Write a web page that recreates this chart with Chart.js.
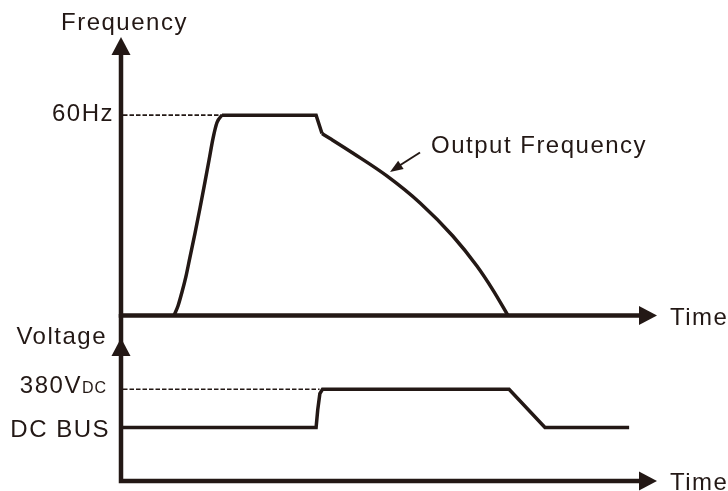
<!DOCTYPE html>
<html>
<head>
<meta charset="utf-8">
<script src="https://cdn.jsdelivr.net/npm/chart.js@4/dist/chart.umd.min.js"></script>
<style>
  html, body { margin: 0; padding: 0; background: #fff; }
  #wrap { position: relative; width: 728px; height: 491px; }
  #wrap canvas { position: absolute; left: 0; top: 0; }
</style>
</head>
<body>
<div id="wrap">
  <canvas id="freq" width="728" height="491"></canvas>
  <canvas id="volt" width="728" height="491"></canvas>
</div>
<script>
// time in arbitrary units (0..100 along the time axis)
// acceleration, constant 60Hz, then deceleration
var riseTime = [9.89, 10.63, 11.38, 12.13, 12.87, 13.81, 14.74, 15.67, 16.42, 17.16, 17.91, 18.84];
var riseHz   = [0,    2.84,  7.03,  11.8,  17.5,  24.7,  32.2,  40.0,  46.5,  53.0,  57.8,  60];
var holdTime = [18.84, 36.4, 37.5];
var holdHz   = [60,    60,   54.5];
var fallTime = [37.5, 39.0, 43.3, 49.6, 55.8, 61.9, 66.4, 69.4, 72.2];
var fallHz   = [54.5, 53.0, 48.6, 41.8, 33.7, 23.8, 14.8, 7.6,  0];

var voltTime  = [0,   36.4, 36.7, 37.1, 37.6, 72.4, 79.1, 94.8];
var voltLevel = [310, 310,  342,  372,  380,  380,  310,  310];

var freqMarkLabels = ['60Hz'];
var freqMarkValues = [60];
var dcBusValue = 310;
var ratedValue = 380;

var INK = '#231815';
var FONT = '24px "Liberation Sans", Arial, sans-serif';
var SMALL = '16px "Liberation Sans", Arial, sans-serif';

function toPoints(xs, ys) {
    var pts = [];
    for (var i = 0; i < xs.length; i++) pts.push({x: xs[i], y: ys[i]});
    return pts;
}

function arrow(ctx, tipX, tipY, dx, dy, len, half) {
    // dx,dy = unit direction the arrow points to
    var bx = tipX - dx * len, by = tipY - dy * len;
    ctx.beginPath();
    ctx.moveTo(tipX, tipY);
    ctx.lineTo(bx - dy * half, by + dx * half);
    ctx.lineTo(bx + dy * half, by - dx * half);
    ctx.closePath();
    ctx.fill();
}

function text(ctx, str, x, y, align) {
    ctx.save();
    ctx.font = FONT;
    ctx.letterSpacing = '1.5px';
    ctx.fillStyle = INK;
    ctx.textBaseline = 'alphabetic';
    var w = ctx.measureText(str).width;
    if (align === 'right') x = x - w;
    ctx.fillText(str, x, y);
    ctx.restore();
}

function dashed(ctx, x1, x2, y) {
    ctx.save();
    ctx.strokeStyle = INK;
    ctx.lineWidth = 1.6;
    ctx.setLineDash([4.5, 2]);
    ctx.beginPath();
    ctx.moveTo(x1, y);
    ctx.lineTo(x2, y);
    ctx.stroke();
    ctx.restore();
}

function axes(ctx, area, vTop) {
    ctx.save();
    ctx.strokeStyle = INK;
    ctx.fillStyle = INK;
    ctx.lineWidth = 4.5;
    ctx.lineCap = 'butt';
    ctx.beginPath();
    ctx.moveTo(area.left, vTop);
    ctx.lineTo(area.left, area.bottom + 2.25);
    ctx.moveTo(area.left - 2.25, area.bottom);
    ctx.lineTo(area.right - 12, area.bottom);
    ctx.stroke();
    arrow(ctx, area.left, area.top, 0, -1, 18, 9.5);
    arrow(ctx, area.right, area.bottom, 1, 0, 18, 9.5);
    ctx.restore();
}

var freqDecor = {
    id: 'freqDecor',
    beforeDatasetsDraw: function(chart) {
        var ctx = chart.ctx, a = chart.chartArea;
        var xs = chart.scales.x, ys = chart.scales.y;
        axes(ctx, a, a.top + 10);
        for (var i = 0; i < freqMarkValues.length; i++) {
            var idx = riseHz.indexOf(freqMarkValues[i]);
            dashed(ctx, a.left + 2, xs.getPixelForValue(riseTime[idx]), ys.getPixelForValue(freqMarkValues[i]));
        }
    },
    afterDraw: function(chart) {
        var ctx = chart.ctx, a = chart.chartArea;
        var ys = chart.scales.y;
        text(ctx, 'Frequency', 61, 30, 'left');
        for (var i = 0; i < freqMarkLabels.length; i++) {
            text(ctx, freqMarkLabels[i], a.left - 7, ys.getPixelForValue(freqMarkValues[i]) + 6, 'right');
        }
        text(ctx, 'Time', a.right + 13, a.bottom + 9.5, 'left');
        text(ctx, 'Output Frequency', 431, 153, 'left');
        // pointer to the curve
        ctx.save();
        ctx.strokeStyle = INK;
        ctx.fillStyle = INK;
        ctx.lineWidth = 2;
        ctx.beginPath();
        ctx.moveTo(420, 152.5);
        ctx.lineTo(398, 166.5);
        ctx.stroke();
        var dx = 390 - 420, dy = 172 - 152.5, L = Math.sqrt(dx * dx + dy * dy);
        arrow(ctx, 390, 172, dx / L, dy / L, 13, 5);
        ctx.restore();
    }
};

var voltDecor = {
    id: 'voltDecor',
    beforeDatasetsDraw: function(chart) {
        var ctx = chart.ctx, a = chart.chartArea;
        var xs = chart.scales.x, ys = chart.scales.y;
        axes(ctx, a, a.top - 24);
        var idx = voltLevel.indexOf(ratedValue);
        dashed(ctx, a.left + 2, xs.getPixelForValue(voltTime[idx]) - 3, ys.getPixelForValue(ratedValue));
    },
    afterDraw: function(chart) {
        var ctx = chart.ctx, a = chart.chartArea;
        var ys = chart.scales.y;
        text(ctx, 'Voltage', a.left - 14, a.top + 5.5, 'right');
        // 380 + small "DC"
        ctx.save();
        ctx.font = SMALL;
        ctx.letterSpacing = '1px';
        var wDC = ctx.measureText('DC').width;
        ctx.font = FONT;
        ctx.letterSpacing = '1.5px';
        var w380 = ctx.measureText('380V').width;
        var yb = ys.getPixelForValue(ratedValue) + 3.5;
        var right = a.left - 14;
        ctx.fillStyle = INK;
        ctx.fillText('380V', right - wDC - w380, yb);
        ctx.font = SMALL;
        ctx.letterSpacing = '1px';
        ctx.fillText('DC', right - wDC, yb);
        ctx.restore();
        text(ctx, 'DC BUS', a.left - 11, ys.getPixelForValue(dcBusValue) + 9, 'right');
        text(ctx, 'Time', a.right + 13, a.bottom + 9, 'left');
    }
};

function lineOptions(pad, yMin, yMax) {
    return {
        responsive: false,
        animation: false,
        layout: { padding: pad },
        plugins: { legend: { display: false }, tooltip: { enabled: false } },
        elements: { point: { radius: 0 } },
        scales: {
            x: { type: 'linear', min: 0, max: 100, display: false },
            y: { type: 'linear', min: yMin, max: yMax, display: false }
        }
    };
}

function curve(label, xs, ys, smooth) {
    return {
        label: label,
        data: toPoints(xs, ys),
        borderColor: INK,
        borderWidth: 3.5,
        borderJoinStyle: 'miter',
        cubicInterpolationMode: smooth ? 'monotone' : 'default',
        tension: 0,
        clip: false,
        fill: false
    };
}

new Chart(document.getElementById('freq').getContext('2d'), {
    type: 'line',
    data: {
        datasets: [
            curve('Acceleration', riseTime, riseHz, true),
            curve('Output Frequency', holdTime, holdHz, false),
            curve('Deceleration', fallTime, fallHz, true)
        ]
    },
    options: lineOptions({ left: 121, right: 71, top: 37, bottom: 175.5 }, 0, 83.4),
    plugins: [freqDecor]
});

new Chart(document.getElementById('volt').getContext('2d'), {
    type: 'line',
    data: {
        datasets: [curve('DC BUS', voltTime, voltLevel, false)]
    },
    options: lineOptions({ left: 121, right: 71, top: 338, bottom: 10 }, 212, 474),
    plugins: [voltDecor]
});
</script>
</body>
</html>
